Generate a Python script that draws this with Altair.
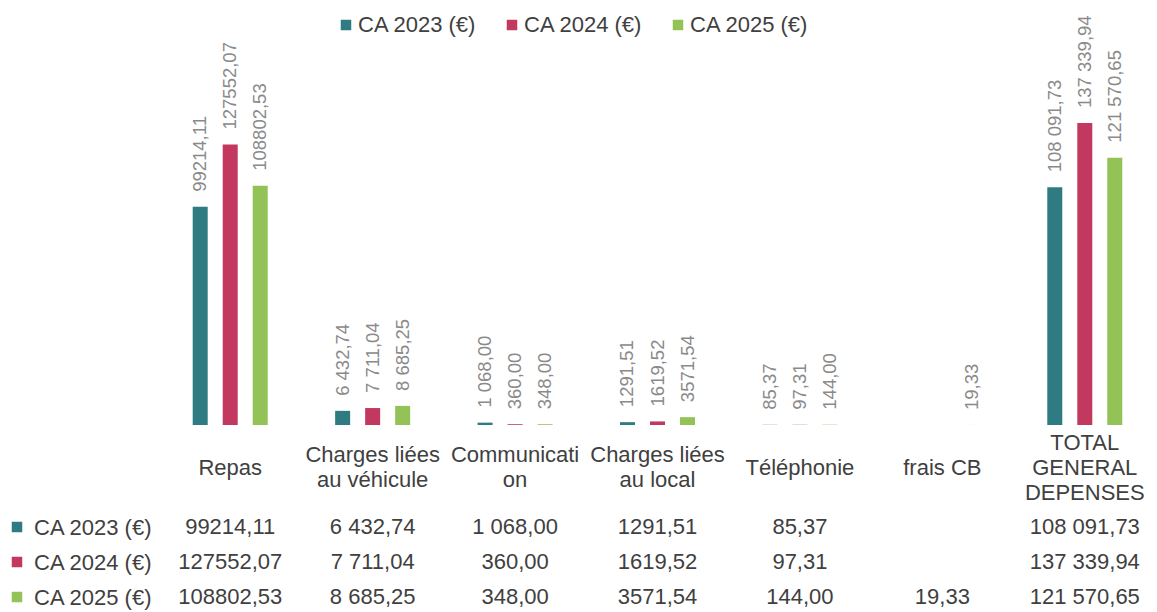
import altair as alt
import pandas as pd

categories = ["Repas", "Charges liées au véhicule", "Communication", "Charges liées au local",
              "Téléphonie", "frais CB", "TOTAL GENERAL DEPENSES"]
category_labels = ["Repas", "Charges liées|au véhicule", "Communicati|on", "Charges liées|au local",
                   "Téléphonie", "frais CB", "TOTAL|GENERAL|DEPENSES"]
series = ["CA 2023 (€)", "CA 2024 (€)", "CA 2025 (€)"]
colors = ["#2E7C82", "#C2385E", "#93C257"]

values_2023 = [99214.11, 6432.74, 1068.00, 1291.51, 85.37, None, 108091.73]
values_2024 = [127552.07, 7711.04, 360.00, 1619.52, 97.31, None, 137339.94]
values_2025 = [108802.53, 8685.25, 348.00, 3571.54, 144.00, 19.33, 121570.65]

text_2023 = ["99214,11", "6 432,74", "1 068,00", "1291,51", "85,37", "", "108 091,73"]
text_2024 = ["127552,07", "7 711,04", "360,00", "1619,52", "97,31", "", "137 339,94"]
text_2025 = ["108802,53", "8 685,25", "348,00", "3571,54", "144,00", "19,33", "121 570,65"]

rows = []
for s, vals, txts in zip(series, [values_2023, values_2024, values_2025], [text_2023, text_2024, text_2025]):
    for lab, v, t in zip(category_labels, vals, txts):
        if v is not None:
            rows.append({"label": lab, "series": s, "value": v, "text": t})
df = pd.DataFrame(rows)

FONT = "Liberation Sans"
TXT = "#404040"
FS = 22

x_enc = alt.X("label:N", sort=category_labels,
              scale=alt.Scale(domain=category_labels, paddingInner=0.368, paddingOuter=0.184),
              axis=alt.Axis(title=None, labelExpr="split(datum.label, '|')", labelAngle=0,
                            labelFontSize=FS, labelColor=TXT, labelFont=FONT,
                            labelBaseline="middle", labelLineHeight=25,
                            labelPadding={"condition": [
                                {"test": "length(split(datum.label, '|')) == 3", "value": 17},
                                {"test": "length(split(datum.label, '|')) == 2", "value": 29.5}],
                                "value": 42},
                            labelOverlap=False, labelBound=False, labelLimit=300,
                            domain=False, ticks=False, grid=False))
xoff_enc = alt.XOffset("series:N", sort=series,
                       scale=alt.Scale(domain=series, paddingInner=0.5, paddingOuter=0.25))
y_val = alt.Y("value:Q", scale=alt.Scale(domain=[0, 191000]), axis=None)
color_enc = alt.Color("series:N", sort=series, scale=alt.Scale(domain=series, range=colors),
                      legend=alt.Legend(title=None, orient="none", legendX=176, legendY=9,
                                        direction="horizontal", symbolType="square",
                                        symbolSize=110, symbolStrokeWidth=0,
                                        labelFontSize=FS, labelColor=TXT, labelFont=FONT,
                                        columnPadding=24, labelOffset=1))

def y_rows(show_axis):
    axis = alt.Axis(title=None, orient="left", domain=False, ticks=False, grid=False,
                    labelFontSize=FS, labelColor=TXT, labelFont=FONT, labelPadding=8) if show_axis else None
    return alt.Y("series:N", sort=series,
                 scale=alt.Scale(type="point", domain=series, range=[522, 592], padding=0),
                 axis=axis)

base = alt.Chart(df)

bars = base.mark_bar().encode(x=x_enc, xOffset=xoff_enc, y=y_val, color=color_enc)

labels = base.mark_text(angle=270, align="left", baseline="middle", dx=15,
                        fontSize=18.5, color="#8a8a8a", font=FONT).encode(
    x=x_enc, xOffset=xoff_enc, y=y_val, text="text:N")

table = base.mark_text(fontSize=FS, color=TXT, baseline="middle", font=FONT).encode(
    x=x_enc, y=y_rows(True), text="text:N")

squares_df = pd.DataFrame({"series": series})
squares = alt.Chart(squares_df).mark_square(size=110, opacity=1).encode(
    x=alt.value(-142), y=y_rows(False), color=color_enc)

chart = alt.layer(bars, labels, table, squares).resolve_scale(y="independent").properties(
    width=997, height=420,
    padding={"left": 11, "top": 5, "right": 0, "bottom": 2},
).configure(font=FONT, background="white").configure_view(stroke=None, strokeWidth=0)

chart.save("out.html", embed_options={"renderer": "svg", "actions": False})
